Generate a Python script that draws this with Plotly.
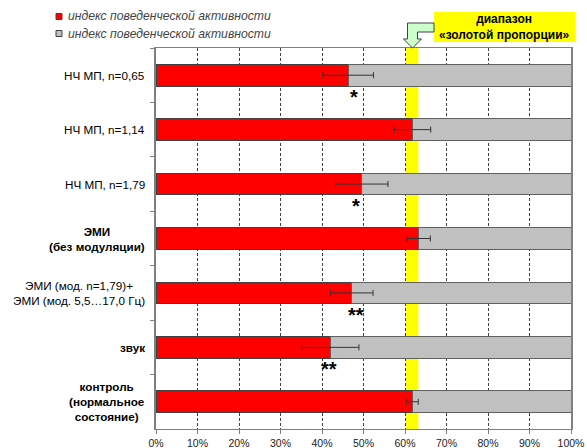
import plotly.graph_objects as go

# ---- data ----
categories = [
    "НЧ МП, n=0,65",
    "НЧ МП, n=1,14",
    "НЧ МП, n=1,79",
    "ЭМИ<br>(без модуляции)",
    "ЭМИ (мод. n=1,79)+<br>ЭМИ (мод. 5,5…17,0 Гц)",
    "звук",
    "контроль<br>(нормальное<br>состояние)",
]
bold_labels = [False, False, False, True, False, True, True]
activity = [46.3, 61.8, 49.6, 63.3, 47.2, 42.0, 61.8]
activity_err = [6.1, 4.4, 6.3, 2.8, 5.1, 6.9, 1.4]
significance = ["*", "", "*", "", "**", "**", ""]
significance_x = [47.7, None, 48.3, None, 48.3, 41.7, None]
series_names = ["индекс поведенческой активности", "индекс поведенческой активности"]
golden_range = [60.2, 63.2]
golden_point = 61.8
callout_text = "диапазон<br>«золотой пропорции»"
x_ticks = list(range(0, 101, 10))

remainder = [100 - v for v in activity]

# ---- geometry helpers (pixel -> paper) ----
W, H = 587, 448
L, R, T, B = 156, 16, 48, 19
PW, PH = W - L - R, H - T - B


def px(x):
    return (x - L) / PW


def py(y):
    return (H - B - y) / PH


FONT = "Liberation Sans, Arial, sans-serif"

fig = go.Figure()
fig.add_trace(go.Bar(
    y=categories, x=activity, orientation="h", name=series_names[0],
    marker=dict(color="#ff0000", line=dict(color="#404040", width=1)),
    width=0.4, showlegend=False,
))
fig.add_trace(go.Bar(
    y=categories, x=remainder, orientation="h", name=series_names[1],
    marker=dict(color="#c0c0c0", line=dict(color="#606060", width=1)),
    width=0.4, showlegend=False,
))
# error bars drawn on top of the stacked bars
fig.add_trace(go.Scatter(
    y=categories, x=activity, mode="markers",
    marker=dict(size=1, color="rgba(0,0,0,0)"),
    error_x=dict(type="data", array=activity_err, color="#333333", thickness=1, width=3),
    showlegend=False, hoverinfo="skip",
))

shapes = []
annotations = []

# golden ratio band
shapes.append(dict(type="rect", xref="x", yref="paper", x0=golden_range[0], x1=golden_range[1],
                   y0=0, y1=1, fillcolor="#ffff00", line=dict(width=0), layer="below"))

# category labels
for cat, b in zip(categories, bold_labels):
    annotations.append(dict(
        x=px(147), xref="paper", y=cat, yref="y", xanchor="right", yanchor="middle",
        text=f"<b>{cat}</b>" if b else cat, showarrow=False, align="center",
        font=dict(family=FONT, size=11.7, color="#000000"),
    ))

# significance stars
for cat, sx, s in zip(categories, significance_x, significance):
    if s:
        annotations.append(dict(
            x=sx, xref="x", y=cat, yref="y", yshift=-22, xanchor="center", yanchor="middle",
            text=f"<b>{s}</b>", showarrow=False,
            font=dict(family=FONT, size=20, color="#000000"),
        ))

# legend (manual)
leg_colors = ["#ff0000", "#c0c0c0"]
leg_y = [16.5, 33.5]
for name, col, yy in zip(series_names, leg_colors, leg_y):
    shapes.append(dict(type="rect", xref="paper", yref="paper",
                       x0=px(56), x1=px(62), y0=py(yy + 3), y1=py(yy - 3),
                       fillcolor=col, line=dict(color="#404040", width=1)))
    annotations.append(dict(
        x=px(66), xref="paper", y=py(yy), yref="paper", xanchor="left", yanchor="middle",
        text=name, showarrow=False,
        font=dict(family=FONT, size=12.2, color="#444444", style="italic"),
    ))

# callout box
shapes.append(dict(type="rect", xref="paper", yref="paper",
                   x0=px(434), x1=px(575), y0=py(42), y1=py(12),
                   fillcolor="#ffff00", line=dict(width=0)))
annotations.append(dict(
    x=px(504.5), xref="paper", y=py(27), yref="paper", xanchor="center", yanchor="middle",
    text=f"<b>{callout_text}</b>", showarrow=False, align="center",
    font=dict(family=FONT, size=12, color="#000000"),
))

# bent arrow pointing at golden proportion
tipx = L + golden_point / 100 * PW
pts = [(434, 23), (tipx - 5, 23), (tipx - 5, 39), (tipx - 9, 39), (tipx, 48),
       (tipx + 9, 39), (tipx + 5, 39), (tipx + 5, 32), (434, 32)]
path = "M " + " L ".join(f"{px(a):.5f},{py(b):.5f}" for a, b in pts) + " Z"
shapes.append(dict(type="path", xref="paper", yref="paper", path=path,
                   fillcolor="#ccffcc", line=dict(color="#404040", width=1)))

fig.update_layout(
    width=W, height=H,
    margin=dict(l=L, r=R, t=T, b=B, autoexpand=False),
    barmode="stack",
    paper_bgcolor="#ffffff", plot_bgcolor="#ffffff",
    font=dict(family=FONT),
    shapes=shapes, annotations=annotations,
    showlegend=False,
    xaxis=dict(
        range=[0, 100], tickvals=x_ticks, ticktext=[f"{t}%" for t in x_ticks],
        showgrid=True, gridcolor="#404040", gridwidth=1, griddash="3px,2px",
        showline=True, linecolor="#808080", linewidth=1, mirror=True,
        ticks="outside", ticklen=4, tickcolor="#808080",
        tickfont=dict(family=FONT, size=10.5, color="#222222"),
        zeroline=False, automargin=False, fixedrange=True,
    ),
    yaxis=dict(
        categoryorder="array", categoryarray=categories, range=[6.5, -0.5],
        showticklabels=False, showgrid=False, zeroline=False,
        showline=True, linecolor="#808080", linewidth=1.5, mirror=True,
        ticks="outside", tickson="boundaries", ticklen=4, tickcolor="#808080",
        automargin=False, fixedrange=True,
    ),
)

fig.write_html("out.html")
